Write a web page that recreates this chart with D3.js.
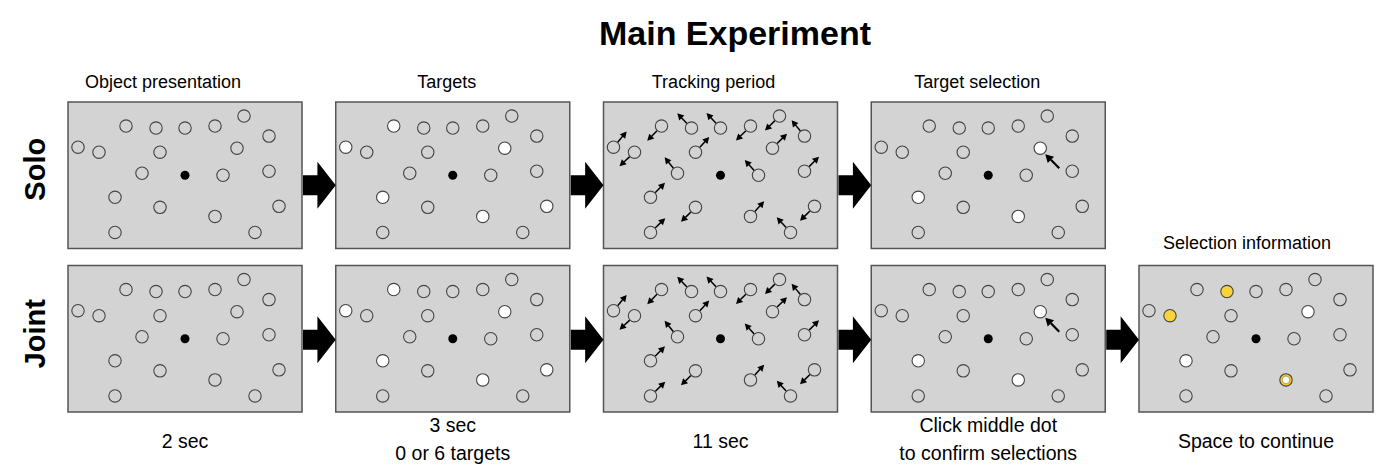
<!DOCTYPE html>
<html>
<head>
<meta charset="utf-8">
<script src="https://cdn.jsdelivr.net/npm/d3@7"></script>
<style>
  body { margin: 0; background: #fff; }
  svg { display: block; font-family: "Liberation Sans", Arial, Helvetica, sans-serif; }
</style>
</head>
<body>
<div id="chart"></div>
<script>
// Conditions (rows) and trial stages (columns)
const rows = ["Solo", "Joint"];
const stages = ["Object presentation", "Targets", "Tracking period", "Target selection", "Selection information"];
const stagesPerRow = [4, 5];
const stageNotes = [
    ["2 sec"],
    ["3 sec", "0 or 6 targets"],
    ["11 sec"],
    ["Click middle dot", "to confirm selections"],
    ["Space to continue"]
];

// Object positions inside a display (display units 234 x 146)
const dotX = [10, 31, 58, 88, 117, 147, 176, 201, 169, 92, 74, 155, 201, 47, 92, 147, 211, 47, 187];
const dotY = [45, 50, 24, 26, 26, 24, 14, 34, 46, 50, 71, 73, 69, 95, 105, 114, 104, 130, 130];
const fixation = [117, 73];

// Highlighted objects
const targetIdx = [0, 2, 8, 13, 15, 16];
const ownSelectionIdx = [8, 13, 15];
const partnerSelectionIdx = [1, 3, 15];

// Movement direction of each object during tracking (degrees, screen coords)
const moveAngle = [-50, 137, 134, -134, -133, 135, 135, -129, -45, -48, -129, -132, -45, -45, 135, -48, 135, -44, -132];

// Mouse cursor in target selection display
const cursorTip = [174, 52];
const cursorTail = [188, 66];

const width = 1379;
const height = 468;

const svg = d3.select("#chart")
    .append("svg")
    .attr("width", width)
    .attr("height", height)
    .attr("viewBox", [0, 0, width, height]);

const col = d3.scaleBand().domain(stages).range([68, 1373]).paddingInner(0.126);
const row = d3.scaleBand().domain(rows).range([102, 412]).paddingInner(0.104);

const px = d3.scaleLinear().domain([0, 234]).range([0, col.bandwidth()]);
const py = d3.scaleLinear().domain([0, 146]).range([0, row.bandwidth()]);

// Title
svg.append("text")
    .attr("x", 735)
    .attr("y", 45)
    .attr("text-anchor", "middle")
    .style("font-size", "34px")
    .style("font-weight", "bold")
    .text("Main Experiment");

// Stage titles (shifted a little left of the display centre, as in the figure)
const titleShift = [-22, -6, -7, -11, -9];
svg.append("g")
    .style("font-size", "18px")
    .selectAll("text")
    .data(stages)
    .join("text")
    .attr("x", (d, i) => col(d) + col.bandwidth() / 2 + titleShift[i])
    .attr("y", (d, i) => i === 4 ? 249 : 88)
    .attr("text-anchor", "middle")
    .text(d => d);

// Row labels
svg.append("g")
    .style("font-size", "29px")
    .style("font-weight", "bold")
    .selectAll("text")
    .data(rows)
    .join("text")
    .attr("transform", (d, i) => `translate(45,${row(d) + row.bandwidth() / 2 - (i === 0 ? 6 : 5)}) rotate(-90)`)
    .attr("text-anchor", "middle")
    .text(d => d);

// Stage notes below
const notes = svg.append("g").style("font-size", "19.5px");
stageNotes.forEach((lines, i) => {
    const cx = col(stages[i]) + col.bandwidth() / 2;
    lines.forEach((t, j) => {
        notes.append("text")
            .attr("x", cx)
            .attr("y", lines.length === 1 ? 448 : 432 + j * 28)
            .attr("text-anchor", "middle")
            .text(t);
    });
});

function drawPanel(g, stageIndex) {
    g.append("rect")
        .attr("width", col.bandwidth())
        .attr("height", row.bandwidth())
        .attr("fill", "#d3d3d3")
        .attr("stroke", "#555")
        .attr("stroke-width", 1.5);

    const dots = dotX.map((x, i) => ({ i, x: px(x), y: py(dotY[i]) }));

    // movement arrows
    if (stageIndex === 2) {
        const ag = g.append("g");
        dots.forEach(d => {
            const a = moveAngle[d.i] * Math.PI / 180;
            const ux = Math.cos(a), uy = Math.sin(a);
            const nx = -uy, ny = ux;
            ag.append("line")
                .attr("x1", d.x + ux * 6.5).attr("y1", d.y + uy * 6.5)
                .attr("x2", d.x + ux * 14.5).attr("y2", d.y + uy * 14.5)
                .attr("stroke", "#000").attr("stroke-width", 1.5);
            const tip = [d.x + ux * 20.5, d.y + uy * 20.5];
            const base = [d.x + ux * 14, d.y + uy * 14];
            ag.append("path")
                .attr("d", d3.line()([tip, [base[0] + nx * 3.5, base[1] + ny * 3.5], [base[0] - nx * 3.5, base[1] - ny * 3.5]]) + "Z")
                .attr("fill", "#000");
        });
    }

    g.append("g")
        .selectAll("circle")
        .data(dots)
        .join("circle")
        .attr("cx", d => d.x)
        .attr("cy", d => d.y)
        .attr("r", 6.2)
        .attr("stroke", "#444")
        .attr("stroke-width", 1.1)
        .attr("fill", d => {
            if (stageIndex === 1 && targetIdx.includes(d.i)) return "#fff";
            if (stageIndex === 3 && ownSelectionIdx.includes(d.i)) return "#fff";
            if (stageIndex === 4) {
                if (partnerSelectionIdx.includes(d.i) && ownSelectionIdx.includes(d.i)) return "#f2c824";
                if (partnerSelectionIdx.includes(d.i)) return "#f9d339";
                if (ownSelectionIdx.includes(d.i)) return "#fff";
            }
            return "#d3d3d3";
        });

    // shared selection: white centre inside the partner ring
    if (stageIndex === 4) {
        g.append("g")
            .selectAll("circle")
            .data(dots.filter(d => partnerSelectionIdx.includes(d.i) && ownSelectionIdx.includes(d.i)))
            .join("circle")
            .attr("cx", d => d.x)
            .attr("cy", d => d.y)
            .attr("r", 3.8)
            .attr("fill", "#fff")
            .attr("stroke", "#8a7420")
            .attr("stroke-width", 0.6);
    }

    // fixation dot
    g.append("circle")
        .attr("cx", px(fixation[0]))
        .attr("cy", py(fixation[1]))
        .attr("r", 4.5)
        .attr("fill", "#000");

    // mouse cursor
    if (stageIndex === 3) {
        const t = [px(cursorTip[0]), py(cursorTip[1])];
        const b = [px(cursorTail[0]), py(cursorTail[1])];
        const dx = t[0] - b[0], dy = t[1] - b[1];
        const len = Math.hypot(dx, dy);
        const ux = dx / len, uy = dy / len, nx = -uy, ny = ux;
        const hb = [t[0] - ux * 8, t[1] - uy * 8];
        g.append("line")
            .attr("x1", b[0]).attr("y1", b[1])
            .attr("x2", hb[0]).attr("y2", hb[1])
            .attr("stroke", "#000").attr("stroke-width", 2.2);
        g.append("path")
            .attr("d", d3.line()([t, [hb[0] + nx * 4.5, hb[1] + ny * 4.5], [hb[0] - nx * 4.5, hb[1] - ny * 4.5]]) + "Z")
            .attr("fill", "#000");
    }
}

// Panels and block arrows
const arrowDrop = [10, 1];
rows.forEach((r, ri) => {
    for (let si = 0; si < stagesPerRow[ri]; si++) {
        const g = svg.append("g")
            .attr("transform", `translate(${col(stages[si])},${row(r)})`);
        drawPanel(g, si);

        if (si > 0) {
            const x0 = col(stages[si - 1]) + col.bandwidth() + 1;
            const x1 = col(stages[si]);
            const xm = x0 + (x1 - x0) * 0.44;
            const cy = row(r) + row.bandwidth() / 2 + arrowDrop[ri];
            svg.append("path")
                .attr("d", d3.line()([
                    [x0, cy - 10], [xm, cy - 10], [xm, cy - 23.5], [x1, cy],
                    [xm, cy + 23.5], [xm, cy + 10], [x0, cy + 10]
                ]) + "Z")
                .attr("fill", "#000");
        }
    }
});
</script>
</body>
</html>
